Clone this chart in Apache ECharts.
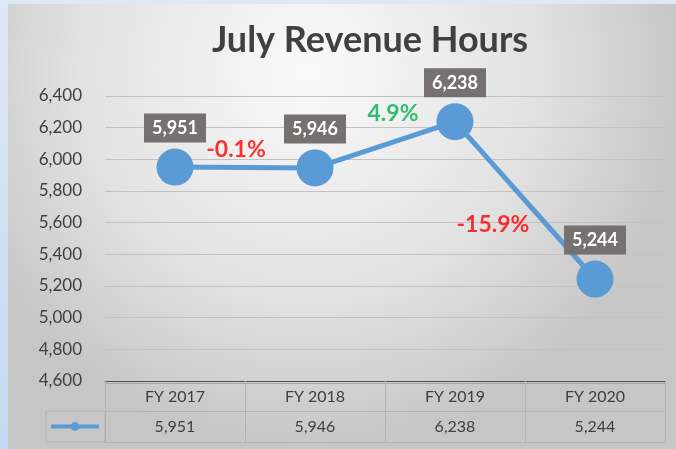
<!DOCTYPE html>
<html>
<head>
<meta charset="utf-8">
<script src="https://cdn.jsdelivr.net/npm/echarts@6/dist/echarts.min.js"></script>
<style>
  html, body { margin: 0; padding: 0; }
  body { width: 676px; height: 449px; background: linear-gradient(180deg, #dde9f6 0%, #c4d9ef 100%); overflow: hidden; }
  #chart { width: 676px; height: 449px; }
</style>
</head>
<body>
<div id="chart"></div>
<script>
// Fiscal years and July revenue hours
const categories = ['FY 2017', 'FY 2018', 'FY 2019', 'FY 2020'];
const revenueHours = [5951, 5946, 6238, 5244];

// Value axis range
const yMin = 4600;
const yMax = 6400;
const yStep = 200;

// Year-over-year change labels, one per segment between consecutive years
const changeLabels = ['-0.1%', '4.9%', '-15.9%'];

// Styling for the change labels
const RED = '#ff0000';
const GREEN = '#00b050';
const changeStyles = [
  { color: RED, offset: [-9, -18] },
  { color: GREEN, offset: [8, -31] },
  { color: RED, offset: [-32, 24] }
];

const FONT = 'Lato, "Open Sans", sans-serif';
const TEXT = '#404040';
const LINE_BLUE = '#5b9bd5';
const TABLE_LINE = '#b3b3b3';

const chart = echarts.init(document.getElementById('chart'), null, { renderer: 'canvas' });

// Annotation anchors: midpoint of each segment
const changePoints = changeLabels.map((txt, i) => ({
  value: [i + 0.5, (revenueHours[i] + revenueHours[i + 1]) / 2],
  label: { formatter: txt, color: changeStyles[i].color, offset: changeStyles[i].offset }
}));

const option = {
  backgroundColor: 'transparent',
  animation: false,
  textStyle: { fontFamily: FONT },
  title: {
    text: 'July Revenue Hours',
    left: 365,
    top: 17,
    textAlign: 'center',
    textStyle: { fontFamily: FONT, fontSize: 36, fontWeight: 'bold', color: TEXT }
  },
  graphic: [
    {
      type: 'rect',
      z: -100,
      silent: true,
      shape: { x: 8, y: 4, width: 668, height: 445 },
      style: {
        fill: new echarts.graphic.RadialGradient(0.45, 0.15, 0.85, [
          { offset: 0, color: '#fafafa' },
          { offset: 0.6, color: '#e2e2e2' },
          { offset: 1, color: '#c6c6c6' }
        ])
      }
    },
    {
      // legend key cell of the data table
      type: 'rect',
      silent: true,
      shape: { x: 46, y: 411, width: 59, height: 31 },
      style: { fill: 'none', stroke: TABLE_LINE, lineWidth: 1 }
    }
  ],
  legend: {
    data: ['Revenue Hours'],
    left: 49,
    top: 421,
    itemWidth: 48,
    itemHeight: 11,
    formatter: () => '',
    lineStyle: { width: 4 },
    padding: 0,
    selectedMode: false
  },
  grid: { left: 105, right: 11, top: 96, bottom: 68, containLabel: false },
  xAxis: [
    {
      type: 'category',
      data: categories,
      position: 'bottom',
      boundaryGap: true,
      axisLine: { lineStyle: { color: '#4d4d4d', width: 1.2 } },
      axisTick: { show: true, length: 61, lineStyle: { color: TABLE_LINE, width: 1 } },
      axisLabel: { margin: 8, fontSize: 16, color: TEXT, fontFamily: FONT }
    },
    {
      type: 'category',
      data: categories,
      position: 'bottom',
      offset: 30,
      axisLine: { lineStyle: { color: TABLE_LINE, width: 1 } },
      axisTick: { show: false },
      axisLabel: {
        margin: 8, fontSize: 16, color: TEXT, fontFamily: FONT,
        formatter: (v, i) => revenueHours[i].toLocaleString('en-US')
      }
    },
    {
      type: 'category',
      data: categories,
      position: 'bottom',
      offset: 61,
      axisLine: { lineStyle: { color: TABLE_LINE, width: 1 } },
      axisTick: { show: false },
      axisLabel: { show: false }
    },
    {
      type: 'category',
      data: categories,
      position: 'bottom',
      offset: 2,
      axisLine: { lineStyle: { color: '#a6a6a6', width: 1 } },
      axisTick: { show: false },
      axisLabel: { show: false }
    },
    {
      type: 'value',
      min: -0.5,
      max: categories.length - 0.5,
      show: false
    }
  ],
  yAxis: {
    type: 'value',
    min: yMin,
    max: yMax,
    interval: yStep,
    axisLine: { show: false },
    axisTick: { show: false },
    axisLabel: {
      margin: 23, fontSize: 17, color: TEXT, fontFamily: FONT,
      formatter: v => v.toLocaleString('en-US')
    },
    splitLine: { lineStyle: { color: '#c2c2c2', width: 1 } }
  },
  series: [
    {
      name: 'Revenue Hours',
      type: 'line',
      xAxisIndex: 0,
      data: revenueHours,
      symbol: 'circle',
      symbolSize: 37,
      itemStyle: { color: LINE_BLUE },
      lineStyle: { color: LINE_BLUE, width: 5 },
      z: 3,
      label: {
        show: true,
        position: 'top',
        distance: 6,
        formatter: p => p.value.toLocaleString('en-US'),
        backgroundColor: '#757171',
        color: '#ffffff',
        fontFamily: FONT,
        fontWeight: 'bold',
        fontSize: 18,
        padding: [6, 8, 5, 8]
      }
    },
    {
      name: 'change',
      type: 'scatter',
      xAxisIndex: 4,
      data: changePoints,
      symbolSize: 0,
      silent: true,
      z: 4,
      label: {
        show: true,
        position: 'inside',
        fontFamily: FONT,
        fontWeight: 'bold',
        fontSize: 23
      }
    }
  ]
};

chart.setOption(option);
</script>
</body>
</html>
